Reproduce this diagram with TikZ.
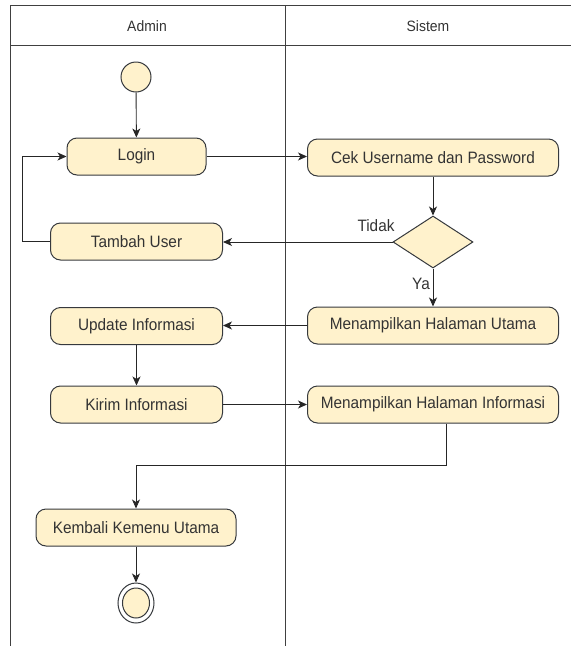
\documentclass[tikz,border=0pt]{standalone}
\usepackage{fontspec}
\setmainfont[FakeStretch=0.93]{Liberation Sans}
\usetikzlibrary{arrows.meta,shapes.geometric}
\definecolor{actfill}{HTML}{FFF2CC}
\definecolor{actline}{HTML}{36393D}
\definecolor{txtcol}{HTML}{333333}
\begin{document}
\begin{tikzpicture}[x=1pt,y=-1pt,
  txt/.style={font=\fontsize{16.5}{18}\selectfont, text=txtcol},
  act/.style={draw=actline, fill=actfill, rounded corners=10pt, line width=1pt,
    minimum height=37pt, inner sep=0pt, txt},
  decision/.style={draw=actline, fill=actfill, diamond, line width=1pt,
    minimum width=80pt, minimum height=52pt, inner sep=0pt},
  flow/.style={draw=black!85, line width=0.9pt, -{Stealth[length=9pt,width=8pt,inset=2.5pt]}},
  lane/.style={draw=black!75, line width=0.9pt}]
\useasboundingbox (0,0) rectangle (571,646);

% swimlane frame
\draw[lane] (10,646) -- (10,5) -- (571,5);
\draw[lane] (10,45) -- (571,45);
\draw[lane] (285,5) -- (285,646);
\node[txt, font=\fontsize{15}{17}\selectfont] (hadmin) at (147,26) {Admin};
\node[txt, font=\fontsize{15}{17}\selectfont] (hsistem) at (428,26) {Sistem};

% activities
\node[circle, draw=actline, fill=actfill, line width=1pt, minimum size=30pt, inner sep=0pt] (start) at (136,77) {};
\node[act, minimum width=139pt] (login) at (136.5,156.5) {Login};
\node[act, minimum width=251pt] (cek) at (433,157.5) {Cek Username dan Password};
\node[decision] (dec) at (433,242) {};
\node[act, minimum width=172pt] (tambah) at (136.5,241.5) {Tambah User};
\node[act, minimum width=251pt] (mhu) at (433,325.5) {Menampilkan Halaman Utama};
\node[act, minimum width=172pt] (update) at (136.5,326) {Update Informasi};
\node[act, minimum width=172pt] (kirim) at (136.5,404.5) {Kirim Informasi};
\node[act, minimum width=251pt] (mhi) at (433,404.5) {Menampilkan Halaman Informasi};
\node[act, minimum width=200pt] (kembali) at (136,527.5) {Kembali Kemenu Utama};
\node[ellipse, draw=actline, fill=white, line width=1pt, minimum width=36pt, minimum height=40pt, inner sep=0pt] (end) at (136,603) {};
\node[ellipse, draw=actline, fill=actfill, line width=1pt, minimum width=27pt, minimum height=30pt, inner sep=0pt] (endin) at (136,603) {};

% labels
\node[txt] (ltidak) at (376,226) {Tidak};
\node[txt] (lya) at (421,284) {Ya};

% connectors
\draw[flow] (start) -- (login);
\draw[flow] (login.east) -- (cek.west |- login.east);
\draw[flow] (cek) -- (dec);
\draw[flow] (dec.west) -- (tambah.east |- dec.west);
\draw[flow] (tambah.west) -- ++(-28,0) |- (login.west);
\draw[flow] (dec.south) -- (mhu.north);
\draw[flow] (mhu.west) -- (update.east |- mhu.west);
\draw[flow] (update) -- (kirim);
\draw[flow] (kirim) -- (mhi);
\coordinate (turn) at (446,465);
\draw[flow] (mhi.south -| turn) -- (turn) -| (kembali.north);
\draw[flow] (kembali) -- (end);
\end{tikzpicture}
\end{document}
